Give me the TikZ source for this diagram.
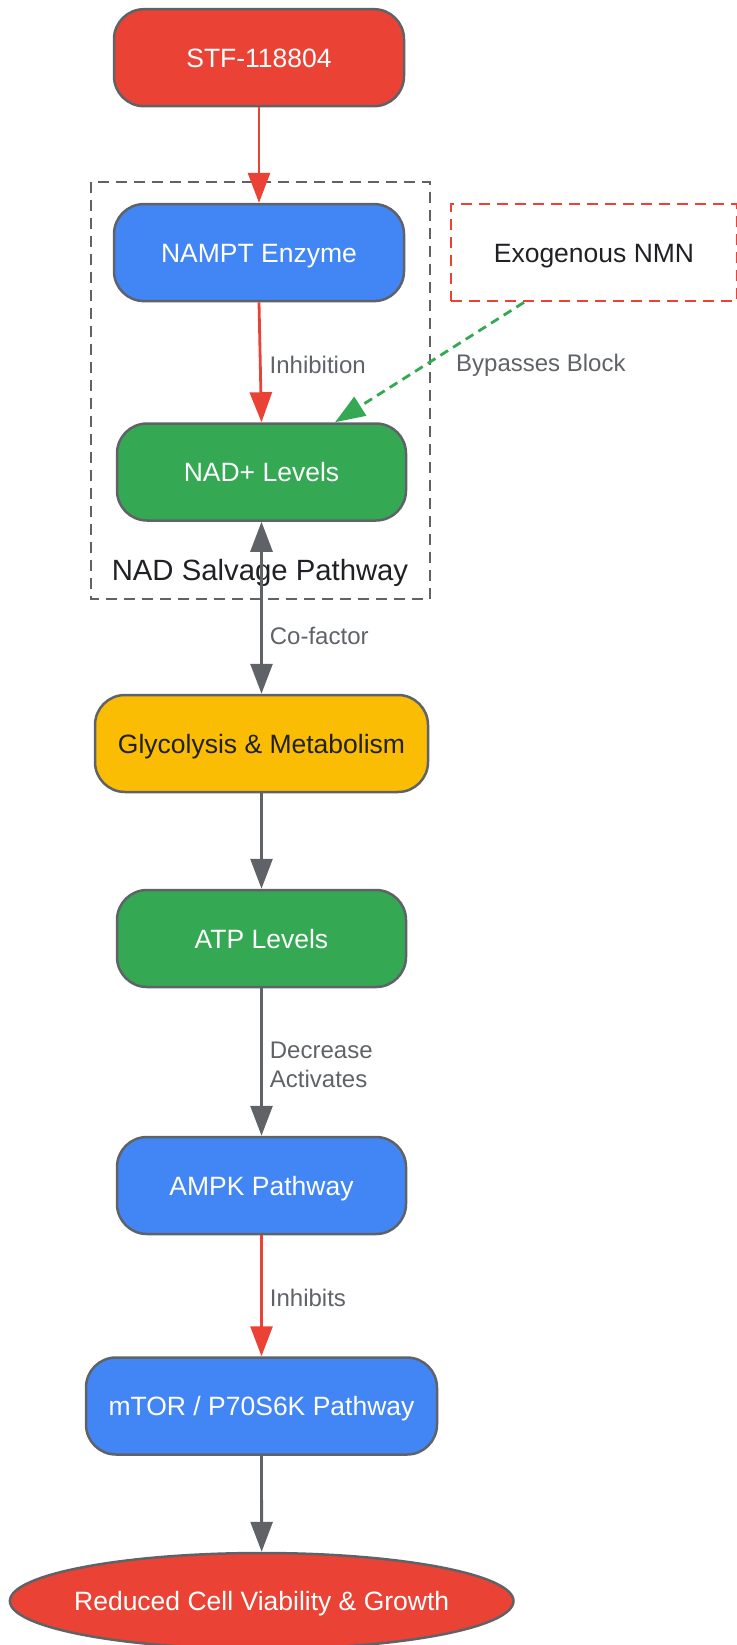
\documentclass[tikz,border=0pt]{standalone}
\usepackage{fontspec}
\setmainfont{Liberation Sans}
\usetikzlibrary{arrows.meta,shapes.geometric,calc}
\definecolor{gred}{HTML}{EA4335}
\definecolor{gblue}{HTML}{4285F4}
\definecolor{ggreen}{HTML}{34A853}
\definecolor{gyellow}{HTML}{FBBC04}
\definecolor{sgray}{HTML}{5F6368}
\definecolor{dtext}{HTML}{202124}
\newcommand\nodefnt{\fontsize{26.5}{32}\selectfont}
\newcommand\lblfnt{\fontsize{24}{29}\selectfont}
\newcommand\clfnt{\fontsize{29.3}{34}\selectfont}
\tikzset{
  pbox/.style={rounded corners=30pt, draw=sgray, line width=2.5pt, minimum width=289pt, minimum height=97pt, inner sep=0pt, font=\nodefnt, text=white, text height=19pt, text depth=0pt},
  edgelbl/.style={font=\lblfnt, text=sgray, inner sep=0pt, anchor=west, align=left, yshift=-2.5pt},
  tip/.style={-{Triangle[length=30pt,width=22pt]}},
  conn/.style={line width=2.8pt, tip},
}
\begin{document}
\begin{tikzpicture}[x=1pt,y=-1pt]
\useasboundingbox (0,0) rectangle (736,1645);
% cluster
\draw[sgray, line width=2.5pt, dash pattern=on 11pt off 7pt] (91,182) rectangle (430,599);
\node[font=\clfnt, text=dtext, inner sep=0pt] (cl) at (260,572.5) {NAD Salvage Pathway};
% nodes
\node[pbox, fill=gred, minimum width=290pt] (stf) at (259,57.7) {STF-118804};
\node[pbox, fill=gblue, minimum width=290pt] (nampt) at (259,252.6) {NAMPT Enzyme};
\node[draw=gred, fill=white, line width=2.5pt, dash pattern=on 11pt off 7pt, minimum width=286pt, minimum height=97pt, inner sep=0pt, font=\nodefnt, text=dtext, text height=19pt, text depth=0pt] (nmn) at (594,252.6) {Exogenous NMN};
\node[pbox, fill=ggreen] (nad) at (261.5,472) {NAD+ Levels};
\node[pbox, fill=gyellow, text=dtext, minimum width=333pt] (glyc) at (261.5,743.5) {Glycolysis \& Metabolism};
\node[pbox, fill=ggreen] (atp) at (261.5,938.5) {ATP Levels};
\node[pbox, fill=gblue] (ampk) at (261.5,1185.5) {AMPK Pathway};
\node[pbox, fill=gblue, minimum width=351pt] (mtor) at (261.5,1406) {mTOR / P70S6K Pathway};
\node[ellipse, draw=sgray, line width=2.5pt, fill=gred, minimum height=96pt, inner xsep=-9.5pt, inner ysep=0pt, font=\nodefnt, text=white, text height=19pt, text depth=0pt] (out) at (261.7,1601) {Reduced Cell Viability \& Growth};
% edges
\draw[conn, gred] (stf) -- (nampt);
\draw[conn, gred] (nampt.south) -- (nad.north) node[edgelbl, midway, xshift=8pt] (l1) {Inhibition};
\coordinate (nmnout) at ($(nmn.south)+(-70,0)$);
\coordinate (nadin) at ($(nad.north)+(73.5,0)$);
\draw[conn, ggreen, dash pattern=on 9pt off 6pt, -{Triangle[length=30pt,width=22pt]}] (nmnout) -- (nadin);
\node[edgelbl] (l2) at (456,363) {Bypasses Block};
\draw[line width=2.8pt, sgray, {Triangle[length=30pt,width=22pt]}-{Triangle[length=30pt,width=22pt]}] (nad) -- (glyc) node[edgelbl, pos=0.65, xshift=7pt] (l3) {Co-factor};
\draw[conn, sgray] (glyc) -- (atp);
\draw[conn, sgray] (atp) -- (ampk) node[edgelbl, midway, xshift=7pt] (l4) {Decrease\\Activates};
\draw[conn, gred] (ampk) -- (mtor) node[edgelbl, midway, xshift=7pt] (l5) {Inhibits};
\draw[conn, sgray] (mtor) -- (out);
\end{tikzpicture}
\end{document}
